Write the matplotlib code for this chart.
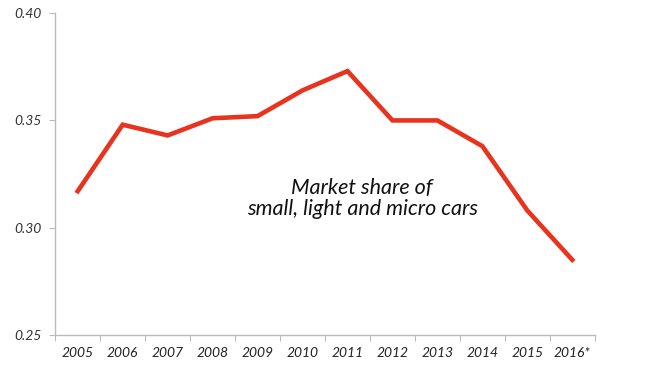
import numpy as np
import matplotlib
matplotlib.use("Agg")
import matplotlib.pyplot as plt

years = ["2005", "2006", "2007", "2008", "2009", "2010",
         "2011", "2012", "2013", "2014", "2015", "2016*"]
share = [0.317, 0.348, 0.343, 0.351, 0.352, 0.364,
         0.373, 0.350, 0.350, 0.338, 0.308, 0.285]
y_ticks = [0.25, 0.30, 0.35, 0.40]

plt.rcParams["font.family"] = ["Lato", "DejaVu Sans"]

fig = plt.figure(figsize=(6.5, 3.66), dpi=100)
ax = fig.add_axes([0.085, 0.085, 0.83, 0.879])

x = np.arange(len(years))
ax.plot(x, share, color="#e8331f", linewidth=3.3, solid_joinstyle="miter")

ax.set_xlim(-0.5, len(years) - 0.5)
ax.set_ylim(0.25, 0.40)

# category ticks sit between the labels
ax.set_xticks(np.arange(len(years) + 1) - 0.5)
ax.set_xticklabels([])
ax.set_xticks(x, minor=True)
ax.set_xticklabels(years, minor=True, fontstyle="italic", fontsize=10, color="#222222")
ax.tick_params(axis="x", which="major", length=4, color="#bbbbbb")
ax.tick_params(axis="x", which="minor", length=0, pad=9)

ax.set_yticks(y_ticks)
ax.set_yticklabels([f"{v:.2f}" for v in y_ticks], fontstyle="italic", fontsize=10, color="#333333")
ax.tick_params(axis="y", length=4, color="#bbbbbb", pad=6)

for s in ["top", "right"]:
    ax.spines[s].set_visible(False)
for s in ["left", "bottom"]:
    ax.spines[s].set_color("#bbbbbb")
    ax.spines[s].set_linewidth(1)

ax.text(0.569, 0.425, "Market share of\nsmall, light and micro cars",
        transform=ax.transAxes, ha="center", va="center",
        fontstyle="italic", fontsize=15.5, color="#111111", linespacing=1.05)

fig.savefig("out.png", dpi=100)
